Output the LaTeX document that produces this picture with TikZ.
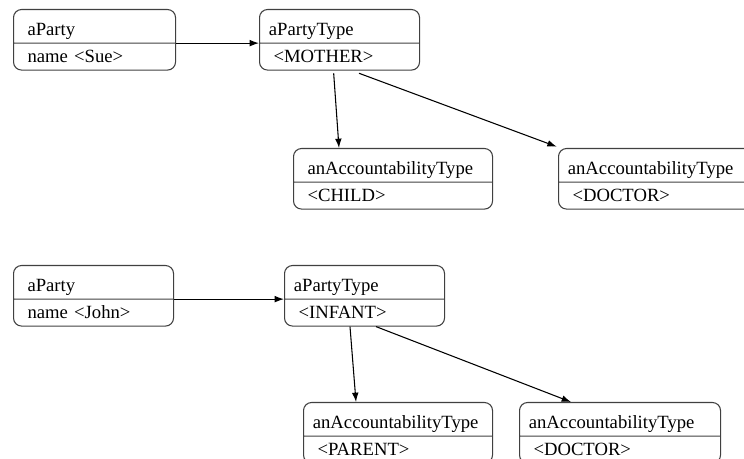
\documentclass[tikz,border=0pt]{standalone}
\usepackage{fontspec}
\setmainfont{Liberation Serif}
\usepackage{tikz}
\usetikzlibrary{shapes.multipart,arrows.meta}

% struts keep both compartments the same height whatever the letters
\newcommand{\upstrut}{\rule[-4pt]{0pt}{22pt}}
\newcommand{\lowstrut}{\rule[-4pt]{0pt}{17pt}}
\newcommand{\indentsp}{\hspace*{3.5pt}}

\tikzset{
  objbox/.style={rectangle split, rectangle split parts=2, draw=black!75, line width=0.8pt,
    rounded corners=6pt, inner xsep=7pt, inner ysep=1.2pt, align=left, text width=#1,
    font=\fontsize{14}{17}\selectfont, anchor=north west},
  link/.style={-{Latex[length=7pt,width=5pt]}, line width=0.8pt}
}

\begin{document}
\begin{tikzpicture}[x=0.75pt, y=-0.75pt]
  \useasboundingbox (0,0) rectangle (744,459);
  \clip (0,0) rectangle (744,459);
  % party typed as mother
  \node[objbox=107.5pt] (sue) at (13,9) {\upstrut\indentsp aParty \nodepart{two}\lowstrut\indentsp name <Sue>};
  \node[objbox=106pt] (mother) at (259,9) {\upstrut aPartyType \nodepart{two}\lowstrut\indentsp <MOTHER>};
  \node[objbox=135.25pt] (child) at (293,148) {\upstrut\indentsp anAccountabilityType \nodepart{two}\lowstrut\indentsp <CHILD>};
  \node[objbox=136pt] (doctorA) at (558,148) {\upstrut anAccountabilityType \nodepart{two}\lowstrut\indentsp <DOCTOR>};
  % party typed as infant
  \node[objbox=106pt] (john) at (13,265) {\upstrut\indentsp aParty \nodepart{two}\lowstrut\indentsp name <John>};
  \node[objbox=106pt] (infant) at (284,265) {\upstrut aPartyType \nodepart{two}\lowstrut\indentsp <INFANT>};
  \node[objbox=127.75pt] (parent) at (303,402) {\upstrut anAccountabilityType \nodepart{two}\lowstrut\indentsp <PARENT>};
  \node[objbox=136.75pt] (doctorB) at (519,402) {\upstrut anAccountabilityType \nodepart{two}\lowstrut\indentsp <DOCTOR>};

  \draw[link] (sue.text split east) -- (sue.text split east -| mother.west);
  \draw[link] ([xshift=56pt,yshift=-2pt]mother.south west) -- ([xshift=34.5pt]child.north west);
  \draw[link] ([xshift=75pt,yshift=-2pt]mother.south west) -- ([xshift=-1pt,yshift=1pt]doctorA.north west);
  \draw[link] (john.text split east) -- (john.text split east -| infant.west);
  \draw[link] ([xshift=49.5pt]infant.south west) -- ([xshift=39.75pt]parent.north west);
  \draw[link] ([xshift=69pt]infant.south west) -- ([xshift=39pt]doctorB.north west);
\end{tikzpicture}
\end{document}
